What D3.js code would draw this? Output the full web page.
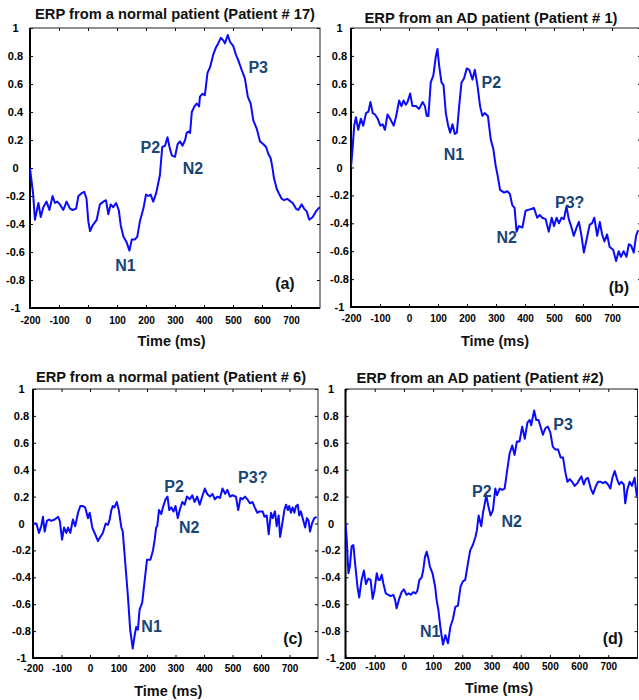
<!DOCTYPE html>
<html>
<head>
<meta charset="utf-8">
<script src="https://cdn.jsdelivr.net/npm/d3@7"></script>
<style>
  body { margin: 0; background: #fff; }
  svg { display: block; font-family: Arial, "Liberation Sans", sans-serif; }
</style>
</head>
<body>
<div id="erp-graph"></div>
<script>
// Données : [temps (ms), amplitude normalisée]

const erpA = [[-200,0],[-189,-0.19],[-183,-0.37],[-171,-0.25],[-163,-0.35],[-154,-0.28],[-143,-0.24],[-133,-0.30],[-122,-0.20],[-114,-0.25],[-106,-0.24],[-97,-0.26],[-85,-0.30],[-74,-0.24],[-62,-0.29],[-53,-0.30],[-41,-0.29],[-33,-0.20],[-22,-0.18],[-13,-0.17],[-5,-0.22],[1,-0.38],[7,-0.45],[16,-0.41],[30,-0.37],[41,-0.26],[53,-0.24],[62,-0.23],[70,-0.33],[78,-0.26],[87,-0.28],[97,-0.25],[106,-0.30],[113,-0.41],[122,-0.49],[133,-0.53],[143,-0.59],[151,-0.51],[162,-0.51],[170,-0.49],[179,-0.38],[191,-0.29],[200,-0.19],[208,-0.20],[216,-0.19],[225,-0.24],[235,-0.18],[243,-0.10],[248,-0.05],[256,0.15],[266,0.16],[274,0.22],[281,0.15],[289,0.09],[300,0.08],[309,0.17],[317,0.19],[326,0.16],[335,0.20],[340,0.25],[346,0.26],[352,0.25],[358,0.40],[367,0.44],[375,0.46],[383,0.44],[386,0.51],[395,0.53],[403,0.52],[412,0.68],[421,0.72],[432,0.81],[441,0.86],[449,0.89],[458,0.93],[467,0.91],[472,0.89],[482,0.95],[490,0.90],[501,0.87],[510,0.81],[518,0.77],[530,0.70],[541,0.64],[551,0.51],[561,0.46],[570,0.34],[582,0.28],[593,0.19],[605,0.17],[614,0.15],[622,0.10],[630,0.07],[637,-0.01],[641,-0.07],[651,-0.15],[660,-0.19],[668,-0.22],[676,-0.23],[687,-0.22],[699,-0.24],[706,-0.25],[717,-0.29],[725,-0.30],[737,-0.26],[745,-0.29],[754,-0.31],[763,-0.37],[775,-0.35],[786,-0.31],[794,-0.29],[800,-0.28]];

const erpB = [[-200,0.0],[-194,0.15],[-189,0.30],[-183,0.36],[-175,0.27],[-166,0.35],[-158,0.30],[-148,0.39],[-140,0.40],[-133,0.47],[-125,0.39],[-117,0.38],[-108,0.35],[-99,0.30],[-91,0.31],[-83,0.27],[-74,0.38],[-65,0.35],[-53,0.30],[-45,0.36],[-34,0.48],[-26,0.44],[-19,0.48],[-11,0.45],[-5,0.47],[4,0.53],[12,0.44],[24,0.44],[35,0.42],[47,0.47],[55,0.44],[61,0.37],[67,0.37],[75,0.61],[84,0.66],[92,0.79],[98,0.85],[104,0.73],[112,0.61],[119,0.59],[127,0.39],[135,0.30],[142,0.25],[150,0.31],[158,0.24],[165,0.25],[173,0.44],[181,0.61],[190,0.64],[199,0.71],[208,0.70],[219,0.63],[227,0.70],[236,0.59],[245,0.44],[253,0.37],[261,0.39],[272,0.37],[282,0.20],[291,0.13],[299,0.01],[305,-0.05],[314,-0.16],[328,-0.18],[339,-0.17],[348,-0.19],[356,-0.27],[364,-0.29],[371,-0.46],[379,-0.42],[391,-0.43],[402,-0.31],[417,-0.30],[431,-0.29],[442,-0.36],[451,-0.34],[459,-0.36],[471,-0.37],[482,-0.46],[492,-0.36],[500,-0.42],[509,-0.36],[517,-0.40],[526,-0.36],[534,-0.37],[543,-0.28],[551,-0.37],[559,-0.42],[568,-0.49],[578,-0.43],[586,-0.39],[594,-0.48],[603,-0.61],[612,-0.52],[623,-0.41],[631,-0.40],[639,-0.36],[649,-0.49],[658,-0.39],[666,-0.48],[674,-0.53],[683,-0.48],[692,-0.57],[704,-0.59],[714,-0.67],[723,-0.60],[731,-0.64],[740,-0.60],[750,-0.64],[758,-0.55],[766,-0.56],[775,-0.61],[783,-0.49],[790,-0.45]];

const erpC = [[-200,0.00],[-188,0.0],[-179,-0.07],[-171,-0.02],[-165,0.05],[-159,-0.06],[-151,0.02],[-144,0.03],[-136,0.02],[-124,0.03],[-112,0.05],[-106,0.02],[-98,-0.12],[-91,-0.03],[-83,-0.07],[-77,-0.03],[-69,-0.07],[-60,0.03],[-52,-0.02],[-42,0.08],[-34,0.13],[-25,0.13],[-17,0.12],[-7,0.04],[-1,0.08],[8,-0.03],[16,-0.07],[28,-0.13],[36,-0.10],[45,-0.07],[55,0.0],[63,-0.01],[69,0.03],[75,0.10],[80,0.13],[86,0.12],[94,0.16],[101,0.10],[110,-0.03],[115,-0.06],[121,-0.22],[133,-0.54],[141,-0.79],[150,-0.93],[156,-0.84],[162,-0.77],[168,-0.79],[174,-0.64],[183,-0.59],[192,-0.42],[200,-0.27],[212,-0.27],[221,-0.20],[227,-0.12],[232,-0.03],[236,-0.02],[242,0.10],[250,0.07],[256,0.12],[265,0.18],[272,0.20],[278,0.10],[285,0.12],[293,0.09],[300,0.13],[308,0.04],[316,0.11],[324,0.16],[332,0.14],[340,0.20],[350,0.18],[359,0.21],[367,0.16],[376,0.20],[385,0.14],[395,0.21],[403,0.26],[411,0.22],[421,0.20],[430,0.22],[438,0.18],[447,0.20],[456,0.19],[465,0.26],[474,0.22],[482,0.25],[491,0.20],[500,0.21],[512,0.20],[520,0.10],[528,0.19],[535,0.18],[544,0.20],[552,0.18],[561,0.15],[570,0.16],[578,0.12],[587,0.08],[596,0.09],[606,0.09],[612,0.05],[620,0.06],[627,-0.08],[635,0.08],[641,0.04],[649,0.09],[655,-0.02],[662,0.06],[667,-0.10],[674,-0.01],[682,0.10],[688,0.14],[694,0.10],[699,0.13],[705,0.08],[711,0.12],[717,0.08],[723,0.13],[729,0.14],[734,0.06],[740,0.09],[746,0.04],[755,-0.03],[761,0.04],[767,0.02],[772,-0.06],[779,0.0],[787,0.04],[795,0.05]];

const erpD = [[-200,0.0],[-196,-0.11],[-190,-0.37],[-185,-0.32],[-179,-0.17],[-173,-0.16],[-167,-0.30],[-159,-0.47],[-153,-0.55],[-145,-0.42],[-137,-0.35],[-130,-0.45],[-122,-0.41],[-114,-0.42],[-107,-0.56],[-101,-0.50],[-93,-0.37],[-87,-0.42],[-82,-0.42],[-76,-0.38],[-70,-0.45],[-62,-0.52],[-53,-0.53],[-45,-0.54],[-36,-0.53],[-30,-0.57],[-25,-0.63],[-16,-0.56],[-8,-0.51],[0,-0.49],[9,-0.53],[17,-0.52],[24,-0.53],[32,-0.51],[40,-0.52],[46,-0.50],[53,-0.42],[61,-0.40],[66,-0.35],[72,-0.25],[78,-0.21],[84,-0.26],[89,-0.32],[98,-0.37],[107,-0.47],[112,-0.57],[118,-0.64],[126,-0.79],[134,-0.90],[142,-0.83],[151,-0.89],[159,-0.77],[168,-0.71],[176,-0.62],[185,-0.61],[194,-0.47],[202,-0.43],[210,-0.42],[219,-0.30],[227,-0.20],[236,-0.16],[245,-0.10],[250,-0.05],[256,0.06],[265,-0.02],[271,0.08],[277,0.15],[282,0.21],[290,0.12],[297,0.06],[305,0.10],[313,0.26],[319,0.21],[328,0.26],[336,0.25],[345,0.26],[354,0.40],[362,0.52],[371,0.58],[379,0.51],[387,0.61],[396,0.61],[405,0.72],[414,0.63],[423,0.75],[431,0.77],[436,0.73],[446,0.84],[453,0.77],[461,0.77],[468,0.72],[476,0.66],[485,0.71],[493,0.72],[501,0.68],[510,0.57],[519,0.55],[528,0.55],[537,0.49],[545,0.49],[553,0.38],[560,0.31],[568,0.33],[576,0.31],[585,0.28],[594,0.30],[602,0.33],[608,0.35],[616,0.29],[623,0.33],[630,0.34],[640,0.26],[648,0.22],[656,0.27],[665,0.31],[674,0.31],[682,0.30],[690,0.31],[699,0.29],[707,0.26],[714,0.34],[722,0.39],[730,0.33],[737,0.29],[745,0.31],[753,0.29],[758,0.15],[765,0.25],[773,0.31],[781,0.28],[790,0.34],[798,0.20]];

// Annotations des pics (en coordonnées des données)
const peaksA = [{ label: "P3", t: 587, v: 0.68 }, { label: "P2", t: 215, v: 0.105 }, { label: "N2", t: 362, v: -0.043 }, { label: "N1", t: 129, v: -0.736 }];
const peaksB = [{ label: "P2", t: 284, v: 0.568 }, { label: "N1", t: 155, v: 0.054 }, { label: "N2", t: 337, v: -0.543 }, { label: "P3?", t: 554, v: -0.292 }];
const peaksC = [{ label: "P2", t: 295, v: 0.236 }, { label: "P3?", t: 571, v: 0.299 }, { label: "N2", t: 348, v: -0.073 }, { label: "N1", t: 216, v: -0.804 }];
const peaksD = [{ label: "P3", t: 545, v: 0.695 }, { label: "P2", t: 267, v: 0.199 }, { label: "N2", t: 369, v: -0.024 }, { label: "N1", t: 90, v: -0.842 }];

// Repères des panneaux (lettre), en coordonnées des données
const tagsPos = [{ t: 679, v: -0.864 }, { t: 724, v: -0.90 }, { t: 712, v: -0.896 }, { t: 716, v: -0.896 }];

const titles = [
  "ERP from a normal patient (Patient # 17)",
  "ERP from an AD patient (Patient # 1)",
  "ERP from a normal patient (Patient # 6)",
  "ERP from an AD patient (Patient #2)"
];
const tags = ["(a)", "(b)", "(c)", "(d)"];
const xLabel = "Time (ms)";
const ticksX = [-200, -100, 0, 100, 200, 300, 400, 500, 600, 700];
const ticksY = [-1, -0.8, -0.6, -0.4, -0.2, 0, 0.2, 0.4, 0.6, 0.8, 1];

//---------------------------------------------------------------------------------------

// Configuration graphique de chaque panneau
const panels = [
  { id: "a", data: erpA, peaks: peaksA, x: [30, 320], y: [28, 308], title: { x: 175, y: 19, len: 280 }, yLab: 15.5, padX: 8.5, time: { x: 171.5, y: 346 } },
  { id: "b", data: erpB, peaks: peaksB, x: [351, 641], y: [28, 307], title: { x: 491, y: 23, len: 253 }, yLab: 339.5, padX: 8, time: { x: 495, y: 345.5 } },
  { id: "c", data: erpC, peaks: peaksC, x: [33, 318], y: [389, 658], title: { x: 171, y: 381.5, len: 270 }, yLab: 21.5, padX: 6.5, time: { x: 168.3, y: 695.5 } },
  { id: "d", data: erpD, peaks: peaksD, x: [345.5, 637.5], y: [389, 658], title: { x: 480, y: 382.5, len: 247 }, yLab: 331, padX: 5.3, time: { x: 499, y: 693 } }
];

// libellés avec un tiret simple (pas le signe moins typographique de d3)
const fmtX = (d) => String(d);
const fmtY = (d) => d === 0 ? "0" : String(+d.toFixed(1));

const svg = d3
  .select("#erp-graph")
  .append("svg")
  .attr("width", 639)
  .attr("height", 700);

panels.forEach((p, i) => {
  // échelles
  const scaleX = d3.scaleLinear().domain([-200, 800]).range(p.x);
  const scaleY = d3.scaleLinear().domain([-1, 1]).range([p.y[1], p.y[0]]);

  const g = svg.append("g").attr("class", `panel-${p.id}`);

  // zone de découpe
  svg.append("clipPath")
    .attr("id", `clip-${p.id}`)
    .append("rect")
    .attr("x", p.x[0])
    .attr("y", p.y[0])
    .attr("width", p.x[1] - p.x[0])
    .attr("height", p.y[1] - p.y[0]);

  // Axe des X (bas) avec graduations intérieures
  g.append("g")
    .attr("transform", `translate(0, ${p.y[1]})`)
    .call(d3.axisBottom(scaleX).tickValues(ticksX).tickSize(-3).tickPadding(p.padX).tickFormat(fmtX))
    .call((a) => a.select(".domain").remove())
    .call((a) => a.selectAll(".tick line").attr("stroke", "#000"))
    .selectAll("text")
    .attr("fill", "#000")
    .style("font-size", "10px")
    .style("font-weight", "bold")
    .style("font-family", "Arial, 'Liberation Sans', sans-serif");

  // graduations du haut
  g.append("g")
    .attr("transform", `translate(0, ${p.y[0]})`)
    .call(d3.axisTop(scaleX).tickValues(ticksX).tickSize(-3).tickFormat(""))
    .call((a) => a.select(".domain").remove())
    .call((a) => a.selectAll(".tick line").attr("stroke", "#000"));

  // Axe des Y (gauche), libellés centrés
  g.append("g")
    .attr("transform", `translate(${p.x[0]}, 0)`)
    .call(d3.axisLeft(scaleY).tickValues(ticksY).tickSize(-3).tickFormat(fmtY))
    .call((a) => a.select(".domain").remove())
    .call((a) => a.selectAll(".tick line").attr("stroke", "#000"))
    .selectAll("text")
    .attr("x", p.yLab - p.x[0])
    .attr("text-anchor", "middle")
    .attr("fill", "#000")
    .style("font-size", "11px")
    .style("font-weight", "bold")
    .style("font-family", "Arial, 'Liberation Sans', sans-serif");

  // graduations de droite
  g.append("g")
    .attr("transform", `translate(${p.x[1]}, 0)`)
    .call(d3.axisRight(scaleY).tickValues(ticksY).tickSize(-3).tickFormat(""))
    .call((a) => a.select(".domain").remove())
    .call((a) => a.selectAll(".tick line").attr("stroke", "#000"));

  // cadre : fin en haut et à droite, épais à gauche et en bas
  g.append("rect")
    .attr("x", p.x[0])
    .attr("y", p.y[0])
    .attr("width", p.x[1] - p.x[0])
    .attr("height", p.y[1] - p.y[0])
    .attr("fill", "none")
    .attr("stroke", "#222")
    .attr("stroke-width", 1);

  g.append("path")
    .attr("d", `M${p.x[0]},${p.y[0]}V${p.y[1]}H${p.x[1]}`)
    .attr("fill", "none")
    .attr("stroke", "#000")
    .attr("stroke-width", 2);

  // courbe ERP
  const line = d3.line()
    .x((d) => scaleX(d[0]))
    .y((d) => scaleY(d[1]));

  g.append("path")
    .datum(p.data)
    .attr("clip-path", `url(#clip-${p.id})`)
    .attr("fill", "none")
    .attr("stroke", "#0a0aff")
    .attr("stroke-width", 2)
    .attr("stroke-linejoin", "round")
    .attr("d", line);

  // annotations des pics
  g.selectAll(".peak")
    .data(p.peaks)
    .join("text")
    .attr("class", "peak")
    .attr("x", (d) => scaleX(d.t))
    .attr("y", (d) => scaleY(d.v))
    .attr("text-anchor", "middle")
    .attr("fill", "#184575")
    .style("font-size", "16px")
    .style("font-weight", "bold")
    .text((d) => d.label);

  // lettre du panneau
  g.append("text")
    .attr("x", scaleX(tagsPos[i].t))
    .attr("y", scaleY(tagsPos[i].v))
    .attr("text-anchor", "middle")
    .attr("fill", "#111")
    .style("font-size", "16px")
    .style("font-weight", "bold")
    .text(tags[i]);

  // titre
  g.append("text")
    .attr("x", p.title.x)
    .attr("y", p.title.y)
    .attr("text-anchor", "middle")
    .attr("textLength", p.title.len)
    .attr("lengthAdjust", "spacingAndGlyphs")
    .attr("fill", "#111")
    .style("font-size", "14px")
    .style("font-weight", "bold")
    .text(titles[i]);

  // titre de l'axe X
  g.append("text")
    .attr("x", p.time.x)
    .attr("y", p.time.y)
    .attr("text-anchor", "middle")
    .attr("fill", "#111")
    .style("font-size", "14.5px")
    .style("font-weight", "bold")
    .text(xLabel);
});
</script>
</body>
</html>
